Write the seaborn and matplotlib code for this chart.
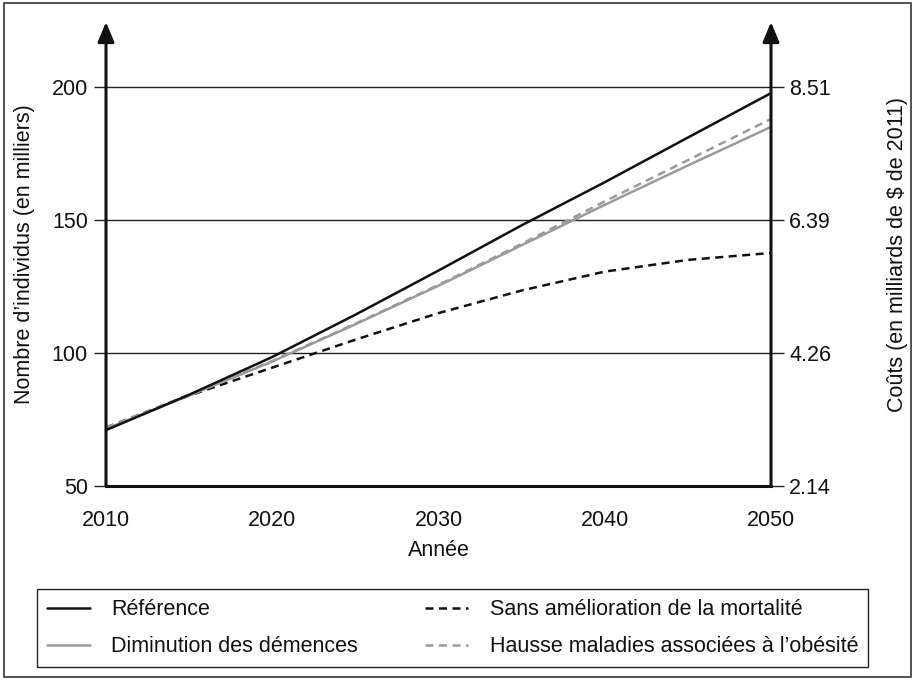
import matplotlib
matplotlib.use("Agg")
import matplotlib.pyplot as plt
import seaborn as sns
import pandas as pd
from matplotlib.patches import Rectangle

# ---- data ----
years = [2010, 2015, 2020, 2025, 2030, 2035, 2040, 2045, 2050]
reference = [71, 84.3, 98.5, 114.4, 131, 148, 164.2, 181, 197.7]
diminution = [71.5, 84, 96.8, 110.8, 125.3, 140.5, 155.7, 170.5, 185]
sans_amelioration = [72, 84, 94.5, 105, 115, 123.5, 130.6, 135, 137.6]
hausse_obesite = [72, 84.3, 97, 111, 125.6, 141, 157, 172.5, 188]

left_ticks = [50, 100, 150, 200]
right_labels = ["2.14", "4.26", "6.39", "8.51"]
x_ticks = [2010, 2020, 2030, 2040, 2050]

series_names = ["Référence", "Diminution des démences",
                "Sans amélioration de la mortalité",
                "Hausse maladies associées à l\u2019obésité"]

sns.set_style("white")
plt.rcParams['font.family'] = ['Liberation Sans', 'DejaVu Sans']
FS = 15.5
plt.rcParams['font.size'] = FS
plt.rcParams['text.color'] = "#111111"
plt.rcParams['axes.labelcolor'] = "#111111"
plt.rcParams['xtick.color'] = "#111111"
plt.rcParams['ytick.color'] = "#111111"

fig = plt.figure(figsize=(9.15, 6.8), dpi=100)
W, H = 915, 680
ax_left, ax_right_px, ax_bottom_px, ax_top_px = 106, 771, 486, 22
ax = fig.add_axes([ax_left / W, 1 - ax_bottom_px / H,
                   (ax_right_px - ax_left) / W, (ax_bottom_px - ax_top_px) / H])

df = pd.DataFrame({"Année": years * 4,
                   "val": reference + diminution + sans_amelioration + hausse_obesite,
                   "série": sum([[n] * len(years) for n in series_names], [])})

styles = {
    series_names[0]: dict(color="#111111", ls="-"),
    series_names[1]: dict(color="#9a9a9a", ls="-"),
    series_names[2]: dict(color="#111111", ls=(0, (3.2, 2.2))),
    series_names[3]: dict(color="#9a9a9a", ls=(0, (3.2, 2.2))),
}
for name in [series_names[2], series_names[3], series_names[1], series_names[0]]:
    sub = df[df["série"] == name]
    sns.lineplot(data=sub, x="Année", y="val", ax=ax, color=styles[name]["color"],
                 linestyle=styles[name]["ls"], linewidth=1.8, label=name, legend=False)

ymax = 200 + (87 - ax_top_px) / 2.66
ax.set_xlim(2010, 2050)
ax.set_ylim(50, ymax)
ax.set_xticks(x_ticks)
ax.set_yticks(left_ticks)
for y in left_ticks[1:]:
    ax.axhline(y, color="#222222", lw=1.0, zorder=0)
ax.tick_params(axis="both", direction="out", length=9, width=1, color="#222222",
               labelsize=FS, pad=4)
ax.tick_params(axis="x", pad=8)
ax.set_xlabel("Année", fontsize=FS, labelpad=7)
ax.set_ylabel("Nombre d\u2019individus (en milliers)", fontsize=FS, labelpad=12)

for s in ["top", "left", "right"]:
    ax.spines[s].set_visible(False)
ax.spines["bottom"].set_linewidth(2.2)
ax.spines["bottom"].set_color("#111111")

ax2 = ax.twinx()
ax2.set_ylim(50, ymax)
ax2.set_yticks(left_ticks)
ax2.set_yticklabels(right_labels)
ax2.tick_params(axis="y", direction="out", length=9, width=1, color="#222222",
                labelsize=FS, pad=4)
for s in ["top", "left", "right", "bottom"]:
    ax2.spines[s].set_visible(False)
ax2.set_ylabel("Coûts (en milliards de $ de 2011)", fontsize=FS, labelpad=40)

# axis arrows
for xf in (0, 1):
    ax.annotate("", xy=(xf, 1), xytext=(xf, 0), xycoords="axes fraction",
                arrowprops=dict(arrowstyle="-|>,head_length=0.6,head_width=0.25",
                                lw=2.2, color="#111111", shrinkA=0, shrinkB=0,
                                mutation_scale=20), annotation_clip=False)

# legend
handles, labels = ax.get_legend_handles_labels()
hmap = dict(zip(labels, handles))
leg_handles = [hmap[n] for n in series_names]
leg = fig.legend(leg_handles, series_names,
                 loc="lower left", ncol=2, mode="expand",
                 bbox_to_anchor=(37 / W, 1 - 667 / H, (868 - 37) / W, (667 - 583) / H),
                 frameon=True, fancybox=False, framealpha=1, edgecolor="#222222",
                 fontsize=FS, handlelength=2.0, handletextpad=1.0,
                 borderpad=0.45, borderaxespad=0, labelspacing=0.75)
leg.get_frame().set_linewidth(1.0)

fig.patches.append(Rectangle((4 / W, 3 / H), (911 - 4) / W, (677 - 3) / H,
                             transform=fig.transFigure, fill=False,
                             edgecolor="#333333", lw=1.2))

fig.savefig("out.png", dpi=100)
